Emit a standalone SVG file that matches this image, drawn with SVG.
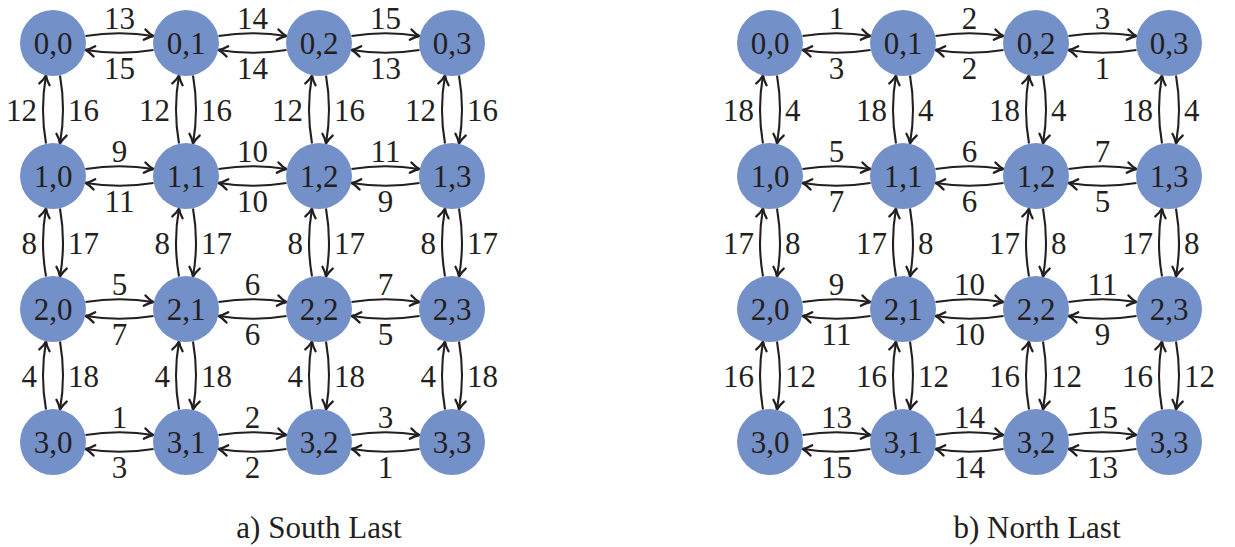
<svg xmlns="http://www.w3.org/2000/svg" xmlns:xlink="http://www.w3.org/1999/xlink" width="1235" height="547" viewBox="0 0 1235 547">
<style>
.n circle{fill:#7490c9}
.n text,.lb text,.cap{font-family:"Liberation Serif","Times New Roman",serif;font-size:31px;fill:#231f20}
.n text{text-anchor:middle}
.lb .c{text-anchor:middle}
.lb .e{text-anchor:end}
.lb .s{text-anchor:start}
.cap{text-anchor:middle}
.ed{fill:none;stroke:#231f20;stroke-width:2.1;marker-end:url(#ah)}
</style>
<defs>
<marker id="ah" viewBox="-12 -7 14 14" refX="0" refY="0" markerWidth="14" markerHeight="14" orient="auto" markerUnits="userSpaceOnUse">
<path d="M-9,-5.2 Q-4,-1.2 0,0 Q-4,1.2 -9,5.2" fill="none" stroke="#231f20" stroke-width="2.3" stroke-linecap="round" stroke-linejoin="round"/>
</marker>
<path id="he" class="ed" d="M32.5,-7 Q66.5,-12.5 100.5,-7"/>
<path id="hw" class="ed" d="M100.5,7 Q66.5,12.5 32.5,7"/>
<path id="vu" class="ed" d="M-7,100.5 Q-13,66.5 -7,32.5"/>
<path id="vd" class="ed" d="M7,32.5 Q13,66.5 7,100.5"/>
</defs>
<rect width="1235" height="547" fill="#fff"/>
<g id="connectors">
<use href="#he" x="53" y="43"/><use href="#hw" x="53" y="43"/><use href="#he" x="186" y="43"/><use href="#hw" x="186" y="43"/><use href="#he" x="319" y="43"/><use href="#hw" x="319" y="43"/>
<use href="#he" x="53" y="176"/><use href="#hw" x="53" y="176"/><use href="#he" x="186" y="176"/><use href="#hw" x="186" y="176"/><use href="#he" x="319" y="176"/><use href="#hw" x="319" y="176"/>
<use href="#he" x="53" y="309"/><use href="#hw" x="53" y="309"/><use href="#he" x="186" y="309"/><use href="#hw" x="186" y="309"/><use href="#he" x="319" y="309"/><use href="#hw" x="319" y="309"/>
<use href="#he" x="53" y="442"/><use href="#hw" x="53" y="442"/><use href="#he" x="186" y="442"/><use href="#hw" x="186" y="442"/><use href="#he" x="319" y="442"/><use href="#hw" x="319" y="442"/>
<use href="#vu" x="53" y="43"/><use href="#vd" x="53" y="43"/><use href="#vu" x="186" y="43"/><use href="#vd" x="186" y="43"/><use href="#vu" x="319" y="43"/><use href="#vd" x="319" y="43"/><use href="#vu" x="452" y="43"/><use href="#vd" x="452" y="43"/>
<use href="#vu" x="53" y="176"/><use href="#vd" x="53" y="176"/><use href="#vu" x="186" y="176"/><use href="#vd" x="186" y="176"/><use href="#vu" x="319" y="176"/><use href="#vd" x="319" y="176"/><use href="#vu" x="452" y="176"/><use href="#vd" x="452" y="176"/>
<use href="#vu" x="53" y="309"/><use href="#vd" x="53" y="309"/><use href="#vu" x="186" y="309"/><use href="#vd" x="186" y="309"/><use href="#vu" x="319" y="309"/><use href="#vd" x="319" y="309"/><use href="#vu" x="452" y="309"/><use href="#vd" x="452" y="309"/>
<use href="#he" x="770" y="43"/><use href="#hw" x="770" y="43"/><use href="#he" x="903" y="43"/><use href="#hw" x="903" y="43"/><use href="#he" x="1036" y="43"/><use href="#hw" x="1036" y="43"/>
<use href="#he" x="770" y="176"/><use href="#hw" x="770" y="176"/><use href="#he" x="903" y="176"/><use href="#hw" x="903" y="176"/><use href="#he" x="1036" y="176"/><use href="#hw" x="1036" y="176"/>
<use href="#he" x="770" y="309"/><use href="#hw" x="770" y="309"/><use href="#he" x="903" y="309"/><use href="#hw" x="903" y="309"/><use href="#he" x="1036" y="309"/><use href="#hw" x="1036" y="309"/>
<use href="#he" x="770" y="442"/><use href="#hw" x="770" y="442"/><use href="#he" x="903" y="442"/><use href="#hw" x="903" y="442"/><use href="#he" x="1036" y="442"/><use href="#hw" x="1036" y="442"/>
<use href="#vu" x="770" y="43"/><use href="#vd" x="770" y="43"/><use href="#vu" x="903" y="43"/><use href="#vd" x="903" y="43"/><use href="#vu" x="1036" y="43"/><use href="#vd" x="1036" y="43"/><use href="#vu" x="1169" y="43"/><use href="#vd" x="1169" y="43"/>
<use href="#vu" x="770" y="176"/><use href="#vd" x="770" y="176"/><use href="#vu" x="903" y="176"/><use href="#vd" x="903" y="176"/><use href="#vu" x="1036" y="176"/><use href="#vd" x="1036" y="176"/><use href="#vu" x="1169" y="176"/><use href="#vd" x="1169" y="176"/>
<use href="#vu" x="770" y="309"/><use href="#vd" x="770" y="309"/><use href="#vu" x="903" y="309"/><use href="#vd" x="903" y="309"/><use href="#vu" x="1036" y="309"/><use href="#vd" x="1036" y="309"/><use href="#vu" x="1169" y="309"/><use href="#vd" x="1169" y="309"/>
</g>
<g id="labels-a" class="lb">
<text class="c" x="119.5" y="28.5">13</text><text class="c" x="252.5" y="28.5">14</text><text class="c" x="385.5" y="28.5">15</text>
<text class="c" x="119.5" y="78.5">15</text><text class="c" x="252.5" y="78.5">14</text><text class="c" x="385.5" y="78.5">13</text>
<text class="c" x="119.5" y="161.5">9</text><text class="c" x="252.5" y="161.5">10</text><text class="c" x="385.5" y="161.5">11</text>
<text class="c" x="119.5" y="211.5">11</text><text class="c" x="252.5" y="211.5">10</text><text class="c" x="385.5" y="211.5">9</text>
<text class="c" x="119.5" y="294.5">5</text><text class="c" x="252.5" y="294.5">6</text><text class="c" x="385.5" y="294.5">7</text>
<text class="c" x="119.5" y="344.5">7</text><text class="c" x="252.5" y="344.5">6</text><text class="c" x="385.5" y="344.5">5</text>
<text class="c" x="119.5" y="427.5">1</text><text class="c" x="252.5" y="427.5">2</text><text class="c" x="385.5" y="427.5">3</text>
<text class="c" x="119.5" y="477.5">3</text><text class="c" x="252.5" y="477.5">2</text><text class="c" x="385.5" y="477.5">1</text>
<text class="e" x="37" y="120.5">12</text><text class="e" x="170" y="120.5">12</text><text class="e" x="303" y="120.5">12</text><text class="e" x="436" y="120.5">12</text>
<text class="s" x="68" y="120.5">16</text><text class="s" x="201" y="120.5">16</text><text class="s" x="334" y="120.5">16</text><text class="s" x="467" y="120.5">16</text>
<text class="e" x="37" y="253.5">8</text><text class="e" x="170" y="253.5">8</text><text class="e" x="303" y="253.5">8</text><text class="e" x="436" y="253.5">8</text>
<text class="s" x="68" y="253.5">17</text><text class="s" x="201" y="253.5">17</text><text class="s" x="334" y="253.5">17</text><text class="s" x="467" y="253.5">17</text>
<text class="e" x="37" y="386.5">4</text><text class="e" x="170" y="386.5">4</text><text class="e" x="303" y="386.5">4</text><text class="e" x="436" y="386.5">4</text>
<text class="s" x="68" y="386.5">18</text><text class="s" x="201" y="386.5">18</text><text class="s" x="334" y="386.5">18</text><text class="s" x="467" y="386.5">18</text>
</g>
<g id="labels-b" class="lb">
<text class="c" x="836.5" y="28.5">1</text><text class="c" x="969.5" y="28.5">2</text><text class="c" x="1102.5" y="28.5">3</text>
<text class="c" x="836.5" y="78.5">3</text><text class="c" x="969.5" y="78.5">2</text><text class="c" x="1102.5" y="78.5">1</text>
<text class="c" x="836.5" y="161.5">5</text><text class="c" x="969.5" y="161.5">6</text><text class="c" x="1102.5" y="161.5">7</text>
<text class="c" x="836.5" y="211.5">7</text><text class="c" x="969.5" y="211.5">6</text><text class="c" x="1102.5" y="211.5">5</text>
<text class="c" x="836.5" y="294.5">9</text><text class="c" x="969.5" y="294.5">10</text><text class="c" x="1102.5" y="294.5">11</text>
<text class="c" x="836.5" y="344.5">11</text><text class="c" x="969.5" y="344.5">10</text><text class="c" x="1102.5" y="344.5">9</text>
<text class="c" x="836.5" y="427.5">13</text><text class="c" x="969.5" y="427.5">14</text><text class="c" x="1102.5" y="427.5">15</text>
<text class="c" x="836.5" y="477.5">15</text><text class="c" x="969.5" y="477.5">14</text><text class="c" x="1102.5" y="477.5">13</text>
<text class="e" x="754" y="120.5">18</text><text class="e" x="887" y="120.5">18</text><text class="e" x="1020" y="120.5">18</text><text class="e" x="1153" y="120.5">18</text>
<text class="s" x="785" y="120.5">4</text><text class="s" x="918" y="120.5">4</text><text class="s" x="1051" y="120.5">4</text><text class="s" x="1184" y="120.5">4</text>
<text class="e" x="754" y="253.5">17</text><text class="e" x="887" y="253.5">17</text><text class="e" x="1020" y="253.5">17</text><text class="e" x="1153" y="253.5">17</text>
<text class="s" x="785" y="253.5">8</text><text class="s" x="918" y="253.5">8</text><text class="s" x="1051" y="253.5">8</text><text class="s" x="1184" y="253.5">8</text>
<text class="e" x="754" y="386.5">16</text><text class="e" x="887" y="386.5">16</text><text class="e" x="1020" y="386.5">16</text><text class="e" x="1153" y="386.5">16</text>
<text class="s" x="785" y="386.5">12</text><text class="s" x="918" y="386.5">12</text><text class="s" x="1051" y="386.5">12</text><text class="s" x="1184" y="386.5">12</text>
</g>
<g id="nodes-a" class="n">
<g id="a00" transform="translate(53,43)"><circle r="33"/><text y="10.5">0,0</text></g>
<g id="a01" transform="translate(186,43)"><circle r="33"/><text y="10.5">0,1</text></g>
<g id="a02" transform="translate(319,43)"><circle r="33"/><text y="10.5">0,2</text></g>
<g id="a03" transform="translate(452,43)"><circle r="33"/><text y="10.5">0,3</text></g>
<g id="a10" transform="translate(53,176)"><circle r="33"/><text y="10.5">1,0</text></g>
<g id="a11" transform="translate(186,176)"><circle r="33"/><text y="10.5">1,1</text></g>
<g id="a12" transform="translate(319,176)"><circle r="33"/><text y="10.5">1,2</text></g>
<g id="a13" transform="translate(452,176)"><circle r="33"/><text y="10.5">1,3</text></g>
<g id="a20" transform="translate(53,309)"><circle r="33"/><text y="10.5">2,0</text></g>
<g id="a21" transform="translate(186,309)"><circle r="33"/><text y="10.5">2,1</text></g>
<g id="a22" transform="translate(319,309)"><circle r="33"/><text y="10.5">2,2</text></g>
<g id="a23" transform="translate(452,309)"><circle r="33"/><text y="10.5">2,3</text></g>
<g id="a30" transform="translate(53,442)"><circle r="33"/><text y="10.5">3,0</text></g>
<g id="a31" transform="translate(186,442)"><circle r="33"/><text y="10.5">3,1</text></g>
<g id="a32" transform="translate(319,442)"><circle r="33"/><text y="10.5">3,2</text></g>
<g id="a33" transform="translate(452,442)"><circle r="33"/><text y="10.5">3,3</text></g>
</g>
<g id="nodes-b" class="n">
<g id="b00" transform="translate(770,43)"><circle r="33"/><text y="10.5">0,0</text></g>
<g id="b01" transform="translate(903,43)"><circle r="33"/><text y="10.5">0,1</text></g>
<g id="b02" transform="translate(1036,43)"><circle r="33"/><text y="10.5">0,2</text></g>
<g id="b03" transform="translate(1169,43)"><circle r="33"/><text y="10.5">0,3</text></g>
<g id="b10" transform="translate(770,176)"><circle r="33"/><text y="10.5">1,0</text></g>
<g id="b11" transform="translate(903,176)"><circle r="33"/><text y="10.5">1,1</text></g>
<g id="b12" transform="translate(1036,176)"><circle r="33"/><text y="10.5">1,2</text></g>
<g id="b13" transform="translate(1169,176)"><circle r="33"/><text y="10.5">1,3</text></g>
<g id="b20" transform="translate(770,309)"><circle r="33"/><text y="10.5">2,0</text></g>
<g id="b21" transform="translate(903,309)"><circle r="33"/><text y="10.5">2,1</text></g>
<g id="b22" transform="translate(1036,309)"><circle r="33"/><text y="10.5">2,2</text></g>
<g id="b23" transform="translate(1169,309)"><circle r="33"/><text y="10.5">2,3</text></g>
<g id="b30" transform="translate(770,442)"><circle r="33"/><text y="10.5">3,0</text></g>
<g id="b31" transform="translate(903,442)"><circle r="33"/><text y="10.5">3,1</text></g>
<g id="b32" transform="translate(1036,442)"><circle r="33"/><text y="10.5">3,2</text></g>
<g id="b33" transform="translate(1169,442)"><circle r="33"/><text y="10.5">3,3</text></g>
</g>
<text class="cap" x="319" y="538">a) South Last</text>
<text class="cap" x="1037" y="538">b) North Last</text>
</svg>
